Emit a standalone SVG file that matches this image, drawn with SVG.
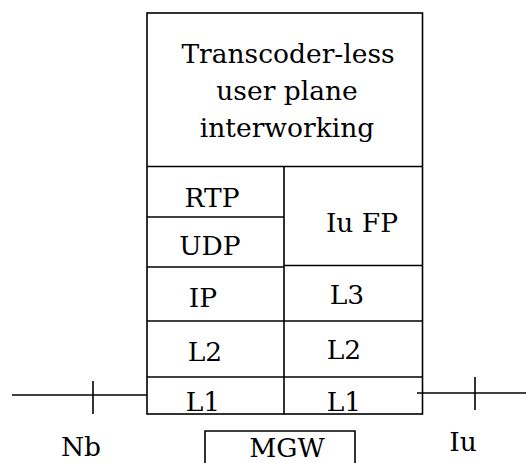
<svg xmlns="http://www.w3.org/2000/svg" width="526" height="463" viewBox="0 0 526 463">
<style>
.ln{stroke:#000;stroke-width:1.6;fill:none}
.t{font-family:'DejaVu Serif',serif;font-size:26.5px;fill:#000;text-anchor:middle}
</style>
<rect width="526" height="463" fill="#fff"/>
<g id="stack">
<rect class="ln" x="147" y="13" width="275.5" height="401"/>
<line class="ln" x1="147" y1="166.5" x2="422.5" y2="166.5"/>
<line class="ln" x1="284" y1="166.5" x2="284" y2="414"/>
<line class="ln" x1="147" y1="217" x2="284" y2="217"/>
<line class="ln" x1="147" y1="267" x2="284" y2="267"/>
<line class="ln" x1="284" y1="265.5" x2="422.5" y2="265.5"/>
<line class="ln" x1="147" y1="321" x2="422.5" y2="321"/>
<line class="ln" x1="147" y1="377" x2="422.5" y2="377"/>
</g>
<g id="tlupi"><text class="t" x="288" y="63">Transcoder-less</text><text class="t" x="287" y="100">user plane</text><text class="t" x="287" y="137">interworking</text></g>
<g id="rtp"><text class="t" x="212" y="207">RTP</text></g>
<g id="udp"><text class="t" x="210" y="255">UDP</text></g>
<g id="iufp"><text class="t" x="362" y="232">Iu FP</text></g>
<g id="ip"><text class="t" x="203" y="307">IP</text></g>
<g id="l3"><text class="t" x="347" y="304">L3</text></g>
<g id="l2a"><text class="t" x="205" y="361">L2</text></g>
<g id="l2b"><text class="t" x="344" y="359">L2</text></g>
<g id="l1a"><text class="t" x="203" y="411">L1</text></g>
<g id="l1b"><text class="t" x="344" y="411">L1</text></g>
<g id="mgw"><path class="ln" d="M205,464 V431 H355 V464"/><text class="t" x="287" y="457">MGW</text></g>
<g id="nb"><text class="t" x="81" y="456">Nb</text></g>
<g id="iu"><text class="t" x="463" y="451">Iu</text></g>
<g id="connectors">
<line class="ln" x1="12" y1="395" x2="147" y2="395"/>
<line class="ln" x1="93" y1="381" x2="93" y2="414"/>
<line class="ln" x1="417" y1="393" x2="526" y2="393"/>
<line class="ln" x1="475" y1="377" x2="475" y2="410"/>
</g>
</svg>
